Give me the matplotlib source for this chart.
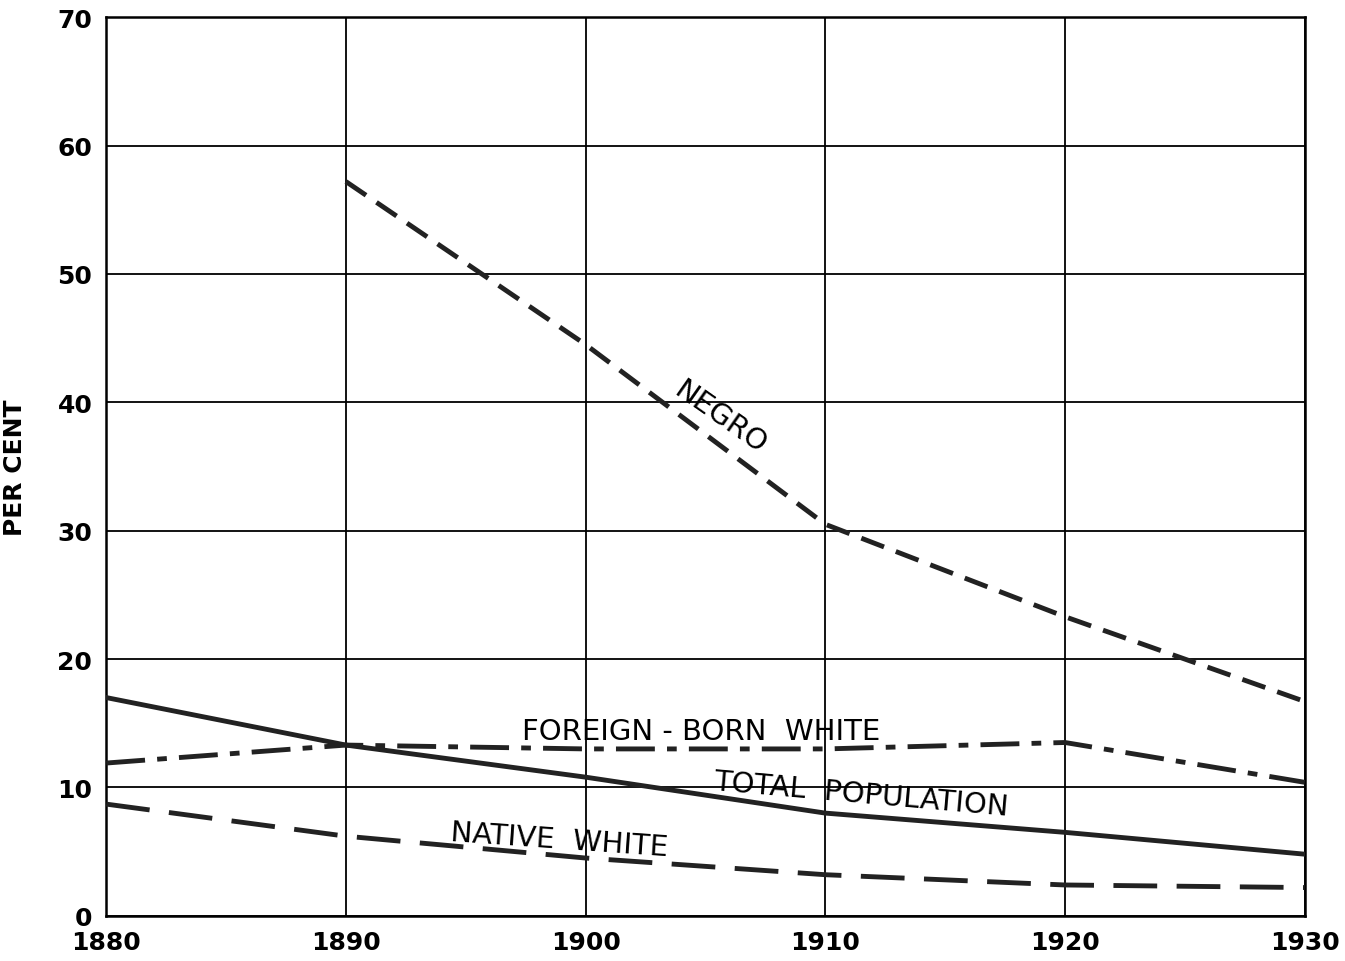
import matplotlib.pyplot as plt

# 연도
years = [1880, 1890, 1900, 1910, 1920, 1930]
negro_years = [1890, 1900, 1910, 1920, 1930]

# 비율 (%)
negro = [57.2, 44.5, 30.5, 23.3, 16.7]
foreign_white = [11.9, 13.3, 13.0, 13.0, 13.5, 10.4]
total_pop = [17.0, 13.3, 10.8, 8.0, 6.5, 4.8]
native_white = [8.7, 6.2, 4.5, 3.2, 2.4, 2.2]

y_ticks = [0, 10, 20, 30, 40, 50, 60, 70]

plt.rcParams['font.family'] = ['DejaVu Sans']

fig = plt.figure(figsize=(13.45, 9.62), dpi=100)
ax = fig.add_axes([0.079, 0.047, 0.891, 0.934])

# 격자
for x in years:
    ax.axvline(x, color='black', linewidth=1.3, zorder=1)
for y in y_ticks:
    ax.axhline(y, color='black', linewidth=1.3, zorder=1)

ax.plot(negro_years, negro, color='#222222', linewidth=3.5, dashes=(5, 2.6), zorder=3)
ax.plot(years, foreign_white, color='#222222', linewidth=3.5, dashes=(8, 2.5, 2, 2.5), zorder=3)
ax.plot(years, total_pop, color='#222222', linewidth=3.5, zorder=3)
ax.plot(years, native_white, color='#222222', linewidth=3.5, dashes=(9, 4), zorder=3)

# 라벨
txt = dict(fontsize=21, color='black', ha='center', va='center', zorder=4)
ax.text(1905.6, 38.9, 'NEGRO', rotation=-35, **txt)
ax.text(1904.8, 14.4, 'FOREIGN - BORN  WHITE', **txt)
ax.text(1911.5, 9.5, 'TOTAL  POPULATION', rotation=-5, **txt)
ax.text(1898.9, 5.9, 'NATIVE  WHITE', rotation=-4, **txt)

ax.set_xlim(1880, 1930)
ax.set_ylim(0, 70)
ax.set_xticks(years)
ax.set_yticks(y_ticks)
ax.tick_params(length=0, labelsize=18, pad=10)
for lbl in ax.get_xticklabels() + ax.get_yticklabels():
    lbl.set_fontweight('bold')
ax.set_ylabel('PER CENT', fontsize=18, fontweight='bold', labelpad=22)
for s in ax.spines.values():
    s.set_linewidth(1.8)

plt.savefig('out.png')
